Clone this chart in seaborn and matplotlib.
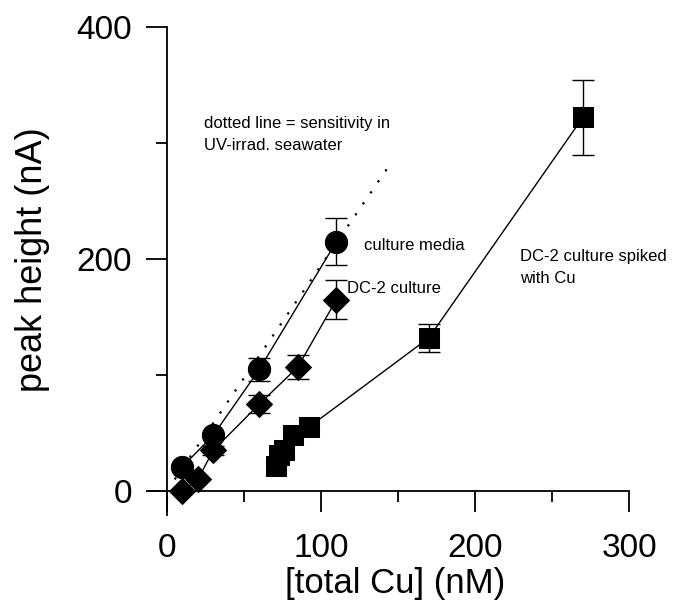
import numpy as np
import pandas as pd
import seaborn as sns
from matplotlib import pyplot as plt
from matplotlib.ticker import MultipleLocator

# culture media (circles)
media_x = [10, 30, 60, 110]
media_y = [21, 48, 105, 215]
media_err = [0, 0, 10, 20]

# DC-2 culture (diamonds)
dc2_x = [10, 20, 30, 60, 85, 110]
dc2_y = [0, 10, 35, 75, 107, 165]
dc2_err = [0, 0, 4, 8, 10, 17]

# DC-2 culture spiked with Cu (squares)
spiked_x = [71, 73, 76, 82, 92, 170, 270]
spiked_y = [22, 31, 35, 48, 55, 132, 322]
spiked_err = [0, 0, 0, 0, 0, 12, 32]

# sensitivity in UV-irradiated seawater (dotted)
uv_x = [5, 144]
uv_y = [10, 280]

sns.set_style("ticks")
plt.rcParams['font.family'] = ['Liberation Sans', 'DejaVu Sans']
plt.rcParams['text.color'] = 'black'
plt.rcParams['axes.labelcolor'] = 'black'
plt.rcParams['xtick.color'] = 'black'
plt.rcParams['ytick.color'] = 'black'

fig = plt.figure(figsize=(6.87, 6.04), dpi=100)
ax = fig.add_axes([0.2162, 0.1467, 0.6994, 0.8086])

sns.lineplot(x=uv_x, y=uv_y, ax=ax, color='black', linewidth=1.6,
             linestyle=(0, (1, 5)), estimator=None)

series = [
    (media_x, media_y, media_err, 'o', 16),
    (dc2_x, dc2_y, dc2_err, 'D', 13),
    (spiked_x, spiked_y, spiked_err, 's', 14),
]
for xs, ys, errs, mk, ms in series:
    df = pd.DataFrame({'x': xs, 'y': ys, 'e': errs})
    sub = df[df.e > 0]
    ax.errorbar(sub.x, sub.y, yerr=sub.e, fmt='none', ecolor='black',
                elinewidth=1.0, capsize=8, capthick=1.0)
    sns.lineplot(data=df, x='x', y='y', ax=ax, color='black', linewidth=1.0,
                 marker=mk, markersize=ms, markeredgecolor='black',
                 markerfacecolor='black', estimator=None, sort=False)

ax.text(24, 313, 'dotted line = sensitivity in', fontsize=12)
ax.text(24, 294, 'UV-irrad. seawater', fontsize=12)
ax.text(128, 212, 'culture media', fontsize=12, va='center')
ax.text(117, 175, 'DC-2 culture', fontsize=12, va='center')
ax.text(229, 202, 'DC-2 culture spiked', fontsize=12, va='center')
ax.text(229, 183, 'with Cu', fontsize=12, va='center')

ax.set_xlim(-12, 300)
ax.set_ylim(-21, 400)
ax.spines['left'].set_position(('data', 0))
ax.spines['bottom'].set_position(('data', 0))
ax.spines['top'].set_visible(False)
ax.spines['right'].set_visible(False)
for s in ['left', 'bottom']:
    ax.spines[s].set_linewidth(1.3)
    ax.spines[s].set_color('black')

ax.xaxis.set_major_locator(MultipleLocator(100))
ax.xaxis.set_minor_locator(MultipleLocator(50))
ax.yaxis.set_major_locator(MultipleLocator(200))
ax.yaxis.set_minor_locator(MultipleLocator(100))
ax.tick_params(which='major', length=15, width=1.3, color='black',
               labelcolor='black', labelsize=24, direction='out')
ax.tick_params(which='minor', length=8, width=1.3, color='black', direction='out')
ax.tick_params(axis='y', pad=10)
ax.tick_params(axis='x', pad=15)

ax.set_xlabel('[total Cu] (nM)', fontsize=25, color='black')
ax.set_ylabel('peak height (nA)', fontsize=26, color='black')
ax.yaxis.set_label_coords(-0.205, 0.523)
ax.xaxis.set_label_coords(0.514, -0.105)

fig.savefig('out.png', dpi=100)
